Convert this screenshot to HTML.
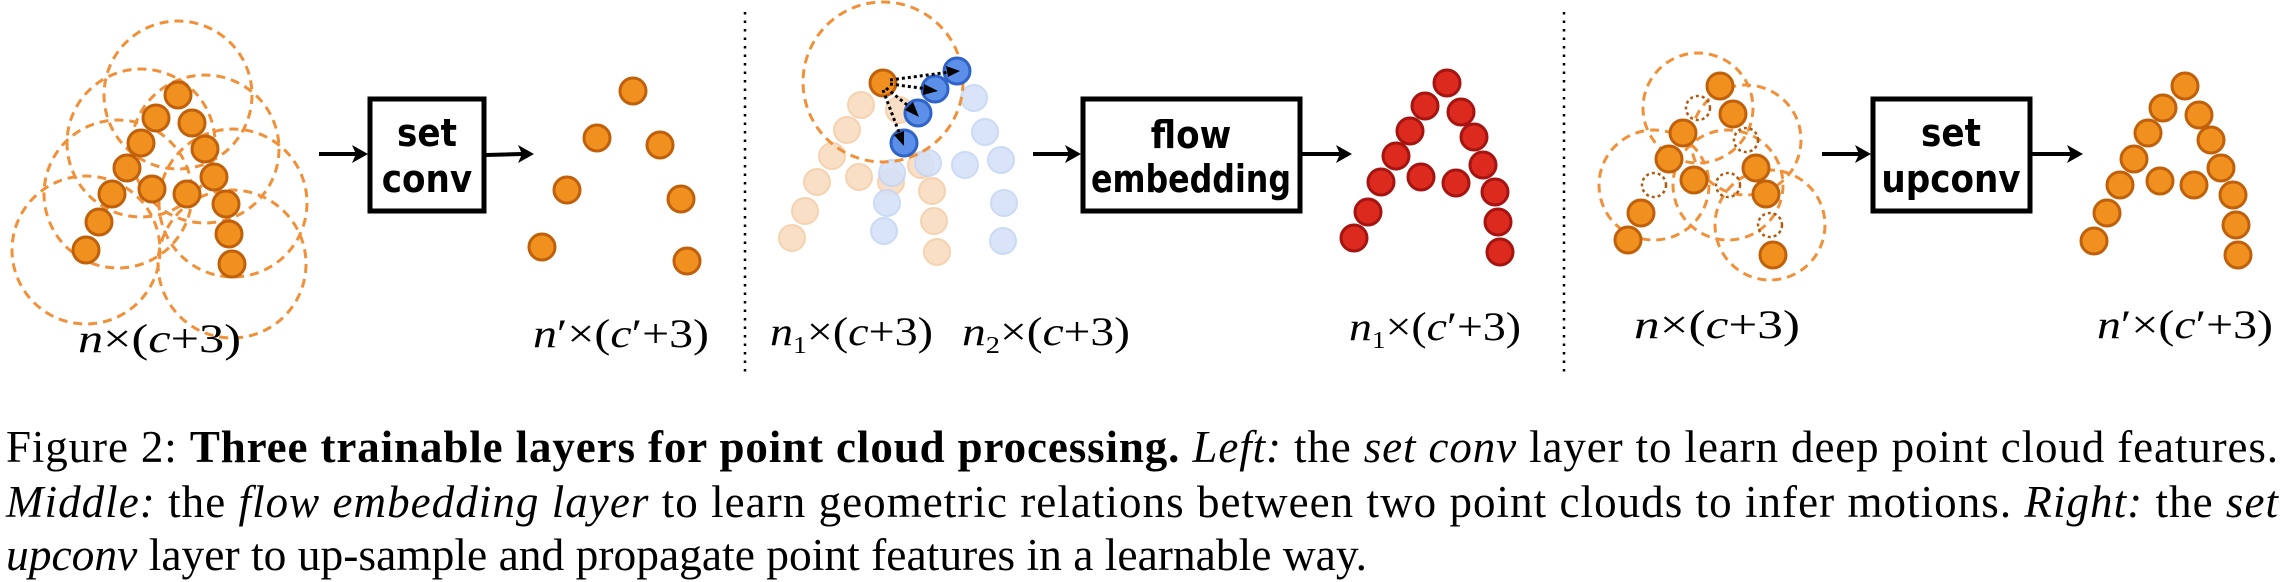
<!DOCTYPE html>
<html><head><meta charset="utf-8"><style>
html,body{margin:0;padding:0;background:#fff;}
svg{display:block;}
.box{fill:#fff;stroke:#000;stroke-width:5;}
.bt{font-family:"DejaVu Sans Condensed","DejaVu Sans","Liberation Sans",sans-serif;font-weight:bold;font-size:38px;text-anchor:middle;fill:#000;}
.lab{font-family:"Liberation Serif",serif;font-size:40px;fill:#000;}
.cap{font-family:"Liberation Serif",serif;font-size:45px;fill:#000;}
.o{fill:#f0901e;stroke:#c0600a;stroke-width:3;}
.r{fill:#dd2a1f;stroke:#a51410;stroke-width:3;}
.b{fill:#5b8fe8;stroke:#2f63c8;stroke-width:3;}
.fo{fill:#f9dcc0;stroke:#f4cfa8;stroke-width:2;opacity:.9;}
.fb{fill:#d5e2f8;stroke:#c6d6f4;stroke-width:2;opacity:.9;}
.dc{fill:none;stroke:#f0913a;stroke-width:3;stroke-dasharray:9 6;}
.hc{fill:none;stroke:#b05a10;stroke-width:2.5;stroke-dasharray:3 3;}
.ar{stroke:#000;stroke-width:4;fill:none;}
.dv{stroke:#000;stroke-width:2.5;stroke-dasharray:2.5 6;}
.da{stroke:#000;stroke-width:3;stroke-dasharray:3 3;fill:none;}
</style></head><body>
<svg width="2284" height="582" viewBox="0 0 2284 582" xmlns="http://www.w3.org/2000/svg">

<!-- LEFT PANEL -->
<g>
<circle class="dc" cx="178" cy="95" r="74"/>
<circle class="dc" cx="141" cy="143" r="74"/>
<circle class="dc" cx="205" cy="149" r="74"/>
<circle class="dc" cx="118" cy="194" r="74"/>
<circle class="dc" cx="233" cy="203" r="74"/>
<circle class="dc" cx="86" cy="250" r="74"/>
<circle class="dc" cx="232" cy="264" r="74"/>
<g class="o">
<circle cx="178" cy="95" r="13"/><circle cx="156" cy="118" r="13"/><circle cx="192" cy="123" r="13"/>
<circle cx="141" cy="143" r="13"/><circle cx="205" cy="149" r="13"/><circle cx="127" cy="168" r="13"/>
<circle cx="214" cy="177" r="13"/><circle cx="112" cy="194" r="13"/><circle cx="152" cy="189" r="13"/>
<circle cx="187" cy="194" r="13"/><circle cx="226" cy="204" r="13"/><circle cx="99" cy="222" r="13"/>
<circle cx="229" cy="234" r="13"/><circle cx="86" cy="250" r="13"/><circle cx="232" cy="264" r="13"/>
</g>
<line class="ar" x1="319" y1="154" x2="356" y2="154"/><polygon points="368,154 352,145 356,154 352,163"/>
<rect class="box" x="370" y="99" width="114" height="112"/>
<text class="bt" x="427" y="146">set</text>
<text class="bt" x="427" y="192">conv</text>
<line class="ar" x1="486" y1="155" x2="522" y2="154"/><polygon points="534,154 518,145 522,154 518,163"/>
<g class="o">
<circle cx="633" cy="91" r="13"/><circle cx="597" cy="138" r="13"/><circle cx="660" cy="145" r="13"/>
<circle cx="567" cy="190" r="13"/><circle cx="681" cy="199" r="13"/><circle cx="542" cy="247" r="13"/>
<circle cx="687" cy="261" r="13"/>
</g>
<text class="lab" x="78" y="352" textLength="163" lengthAdjust="spacingAndGlyphs"><tspan font-style="italic">n</tspan>×(<tspan font-style="italic">c</tspan>+3)</text>
<text class="lab" x="533" y="347" textLength="176" lengthAdjust="spacingAndGlyphs"><tspan font-style="italic">n</tspan>′×(<tspan font-style="italic">c</tspan>′+3)</text>
</g>

<line class="dv" x1="745" y1="12" x2="745" y2="375"/>

<!-- MIDDLE PANEL -->
<g>
<g class="fo">
<circle cx="861" cy="105" r="13"/><circle cx="847" cy="130" r="13"/><circle cx="899" cy="110" r="13"/>
<circle cx="832" cy="156" r="13"/><circle cx="921" cy="165" r="13"/><circle cx="817" cy="182" r="13"/>
<circle cx="859" cy="177" r="13"/><circle cx="891" cy="182" r="13"/><circle cx="805" cy="211" r="13"/>
<circle cx="932" cy="191" r="13"/><circle cx="934" cy="221" r="13"/><circle cx="792" cy="238" r="13"/>
<circle cx="937" cy="252" r="13"/>
</g>
<g class="fb">
<circle cx="974" cy="98" r="13"/><circle cx="985" cy="132" r="13"/><circle cx="1001" cy="160" r="13"/>
<circle cx="965" cy="165" r="13"/><circle cx="928" cy="163" r="13"/><circle cx="892" cy="173" r="13"/>
<circle cx="887" cy="203" r="13"/><circle cx="1004" cy="203" r="13"/><circle cx="884" cy="231" r="13"/>
<circle cx="1003" cy="241" r="13"/>
</g>
<circle class="dc" cx="883" cy="82" r="80"/>
<circle class="b" cx="957" cy="71" r="13"/><circle class="b" cx="935" cy="89" r="13"/>
<circle class="b" cx="918" cy="113" r="13"/><circle class="b" cx="904" cy="143" r="13"/>
<circle class="o" cx="883" cy="83" r="13"/>
<line class="da" x1="890" y1="80" x2="950" y2="72"/><polygon points="960,71 946,66 948,77"/>
<line class="da" x1="890" y1="84" x2="928" y2="89"/><polygon points="938,91 924,84 923,95"/>
<line class="da" x1="886" y1="88" x2="911" y2="108"/><polygon points="919,117 913,102 905,110"/>
<line class="da" x1="883" y1="90" x2="900" y2="135"/><polygon points="904,146 904,131 894,135"/>
<line class="ar" x1="1033" y1="154" x2="1069" y2="154"/><polygon points="1081,154 1065,145 1069,154 1065,163"/>
<rect class="box" x="1083" y="99" width="217" height="112"/>
<text class="bt" x="1191" y="148">flow</text>
<text class="bt" x="1191" y="192" textLength="200" lengthAdjust="spacingAndGlyphs">embedding</text>
<line class="ar" x1="1302" y1="154" x2="1340" y2="154"/><polygon points="1352,154 1336,145 1340,154 1336,163"/>
<g class="r">
<circle cx="1447" cy="83" r="13"/><circle cx="1425" cy="106" r="13"/><circle cx="1461" cy="112" r="13"/>
<circle cx="1410" cy="131" r="13"/><circle cx="1474" cy="137" r="13"/><circle cx="1396" cy="156" r="13"/>
<circle cx="1483" cy="165" r="13"/><circle cx="1381" cy="182" r="13"/><circle cx="1421" cy="177" r="13"/>
<circle cx="1456" cy="183" r="13"/><circle cx="1495" cy="192" r="13"/><circle cx="1368" cy="212" r="13"/>
<circle cx="1498" cy="222" r="13"/><circle cx="1354" cy="238" r="13"/><circle cx="1500" cy="252" r="13"/>
</g>
<text class="lab" x="770" y="345" textLength="163" lengthAdjust="spacingAndGlyphs"><tspan font-style="italic">n</tspan><tspan font-size="24" dy="8">1</tspan><tspan dy="-8">×(</tspan><tspan font-style="italic">c</tspan>+3)</text>
<text class="lab" x="962" y="345" textLength="168" lengthAdjust="spacingAndGlyphs"><tspan font-style="italic">n</tspan><tspan font-size="24" dy="8">2</tspan><tspan dy="-8">×(</tspan><tspan font-style="italic">c</tspan>+3)</text>
<text class="lab" x="1349" y="340" textLength="172" lengthAdjust="spacingAndGlyphs"><tspan font-style="italic">n</tspan><tspan font-size="24" dy="8">1</tspan><tspan dy="-8">×(</tspan><tspan font-style="italic">c</tspan>′+3)</text>
</g>

<line class="dv" x1="1564" y1="12" x2="1564" y2="373"/>

<!-- RIGHT PANEL -->
<g>
<circle class="dc" cx="1698" cy="108" r="55"/>
<circle class="dc" cx="1746" cy="140" r="55"/>
<circle class="dc" cx="1654" cy="185" r="55"/>
<circle class="dc" cx="1728" cy="185" r="55"/>
<circle class="dc" cx="1770" cy="225" r="55"/>
<g class="hc">
<circle cx="1698" cy="108" r="12"/><circle cx="1746" cy="140" r="12"/><circle cx="1654" cy="185" r="12"/>
<circle cx="1728" cy="185" r="12"/><circle cx="1770" cy="225" r="12"/>
</g>
<g class="o">
<circle cx="1720" cy="86" r="13"/><circle cx="1733" cy="114" r="13"/><circle cx="1683" cy="133" r="13"/>
<circle cx="1669" cy="159" r="13"/><circle cx="1756" cy="168" r="13"/><circle cx="1694" cy="180" r="13"/>
<circle cx="1766" cy="194" r="13"/><circle cx="1641" cy="213" r="13"/><circle cx="1628" cy="240" r="13"/>
<circle cx="1773" cy="255" r="13"/>
</g>
<line class="ar" x1="1822" y1="154" x2="1859" y2="154"/><polygon points="1871,154 1855,145 1859,154 1855,163"/>
<rect class="box" x="1873" y="99" width="157" height="112"/>
<text class="bt" x="1951" y="146">set</text>
<text class="bt" x="1951" y="192">upconv</text>
<line class="ar" x1="2032" y1="154" x2="2071" y2="154"/><polygon points="2083,154 2067,145 2071,154 2067,163"/>
<g class="o">
<circle cx="2185" cy="86" r="13"/><circle cx="2163" cy="108" r="13"/><circle cx="2199" cy="115" r="13"/>
<circle cx="2148" cy="133" r="13"/><circle cx="2211" cy="140" r="13"/><circle cx="2134" cy="159" r="13"/>
<circle cx="2221" cy="168" r="13"/><circle cx="2120" cy="185" r="13"/><circle cx="2160" cy="181" r="13"/>
<circle cx="2194" cy="185" r="13"/><circle cx="2233" cy="195" r="13"/><circle cx="2107" cy="213" r="13"/>
<circle cx="2236" cy="225" r="13"/><circle cx="2094" cy="241" r="13"/><circle cx="2238" cy="255" r="13"/>
</g>
<text class="lab" x="1634" y="338" textLength="166" lengthAdjust="spacingAndGlyphs"><tspan font-style="italic">n</tspan>×(<tspan font-style="italic">c</tspan>+3)</text>
<text class="lab" x="2097" y="338" textLength="176" lengthAdjust="spacingAndGlyphs"><tspan font-style="italic">n</tspan>′×(<tspan font-style="italic">c</tspan>′+3)</text>
</g>

<!-- CAPTION -->
<text class="cap" x="6" y="462" textLength="2272" lengthAdjust="spacing">Figure 2: <tspan font-weight="bold">Three trainable layers for point cloud processing.</tspan> <tspan font-style="italic">Left:</tspan> the <tspan font-style="italic">set conv</tspan> layer to learn deep point cloud features.</text>
<text class="cap" x="6" y="517" textLength="2272" lengthAdjust="spacing"><tspan font-style="italic">Middle:</tspan> the <tspan font-style="italic">flow embedding layer</tspan> to learn geometric relations between two point clouds to infer motions. <tspan font-style="italic">Right:</tspan> the <tspan font-style="italic">set</tspan></text>
<text class="cap" x="6" y="570" textLength="1361" lengthAdjust="spacingAndGlyphs"><tspan font-style="italic">upconv</tspan> layer to up-sample and propagate point features in a learnable way.</text>
</svg>
</body></html>
